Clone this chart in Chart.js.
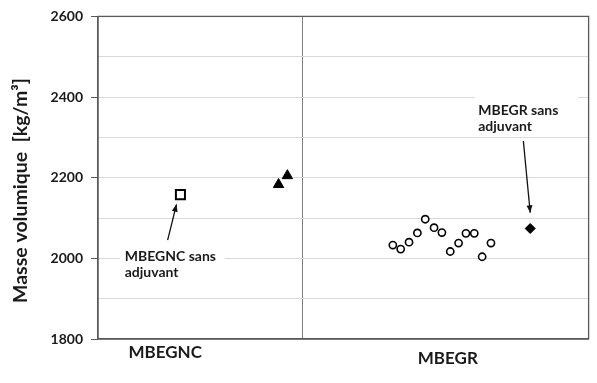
<!DOCTYPE html>
<html>
<head>
<meta charset="utf-8">
<script src="https://cdn.jsdelivr.net/npm/chart.js@4/dist/chart.umd.min.js"></script>
<style>
  html, body { margin: 0; padding: 0; background: #fff; }
  #wrap { width: 597px; height: 383px; }
</style>
</head>
<body>
<div id="wrap"><canvas id="c" width="597" height="383"></canvas></div>
<script>
// ---- data ----
const categories = ['MBEGNC', 'MBEGR'];
const yTitle = 'Masse volumique  [kg/m³]';
const yTickValues = [1800, 2000, 2200, 2400, 2600];

const mbegncRefX = [16.8];
const mbegncRefY = [2158];
const mbegncX = [36.8, 38.6];
const mbegncY = [2183, 2205];
const mbegrX = [60.1, 61.7, 63.4, 65.1, 66.7, 68.5, 70.1, 71.8, 73.5, 75.0, 76.7, 78.3, 80.1];
const mbegrY = [2033, 2023, 2040, 2063, 2097, 2076, 2064, 2017, 2038, 2062, 2062, 2004, 2038];
const mbegrRefX = [88.1];
const mbegrRefY = [2074];

const annotationTexts = [['MBEGNC sans', 'adjuvant'], ['MBEGR sans', 'adjuvant']];

// ---- layout (not data) ----
const groupDivider = 41.6;
const categoryPos = [{x: 13.7, py: 353}, {x: 71.3, py: 358.7}];
const annotationLayout = [
  {textX: 5.45, textY: 1993, box: [120, 250, 225, 282], from: [14.2, 2045], to: [16.0, 2134]},
  {textX: 77.5, textY: 2355, box: [475, 93, 578, 137], from: [86.7, 2291], to: [88.1, 2113]}
];
const FONT = 'Lato, "Open Sans", sans-serif';

function pts(xs, ys) { return xs.map((x, i) => ({x: x, y: ys[i]})); }

const framePlugin = {
  id: 'frame',
  afterDatasetsDraw(chart) {
    const {ctx, scales: {x, y}} = chart;
    ctx.save();
    annotationLayout.forEach((an, i) => {
      ctx.fillStyle = '#fff';
      const b = an.box;
      ctx.fillRect(b[0], b[1], b[2] - b[0], b[3] - b[1]);
      ctx.fillStyle = '#1a1a1a';
      ctx.font = 'bold 14px ' + FONT;
      ctx.textAlign = 'left';
      ctx.textBaseline = 'alphabetic';
      const tx = x.getPixelForValue(an.textX), ty = y.getPixelForValue(an.textY);
      annotationTexts[i].forEach((t, j) => ctx.fillText(t, tx, ty + j * 15.5));
      const x1 = x.getPixelForValue(an.from[0]), y1 = y.getPixelForValue(an.from[1]);
      const x2 = x.getPixelForValue(an.to[0]), y2 = y.getPixelForValue(an.to[1]);
      ctx.strokeStyle = '#111';
      ctx.lineWidth = 1.3;
      ctx.beginPath(); ctx.moveTo(x1, y1); ctx.lineTo(x2, y2); ctx.stroke();
      const ang = Math.atan2(y2 - y1, x2 - x1), L = 8, W = 0.38;
      ctx.fillStyle = '#111';
      ctx.beginPath();
      ctx.moveTo(x2, y2);
      ctx.lineTo(x2 - L * Math.cos(ang - W), y2 - L * Math.sin(ang - W));
      ctx.lineTo(x2 - L * Math.cos(ang + W), y2 - L * Math.sin(ang + W));
      ctx.closePath(); ctx.fill();
    });
    ctx.restore();
  },
  afterDraw(chart) {
    const {ctx, chartArea: a, scales: {x}} = chart;
    ctx.save();
    ctx.strokeStyle = '#595959';
    ctx.lineWidth = 1.3;
    ctx.strokeRect(a.left, a.top, a.right - a.left, a.bottom - a.top);
    ctx.fillStyle = '#1a1a1a';
    ctx.font = 'bold 17px ' + FONT;
    ctx.textAlign = 'center';
    ctx.textBaseline = 'middle';
    categories.forEach((c, i) => ctx.fillText(c, x.getPixelForValue(categoryPos[i].x), categoryPos[i].py));
    // y title, sized to span ~225px like the reference
    ctx.font = 'bold 16px ' + FONT;
    const w = ctx.measureText(yTitle).width;
    const size = Math.min(20, 16 * 225 / w);
    ctx.font = 'bold ' + size.toFixed(1) + 'px ' + FONT;
    ctx.translate(21, 190.5);
    ctx.rotate(-Math.PI / 2);
    ctx.fillText(yTitle, 0, 0);
    ctx.restore();
  }
};

new Chart(document.getElementById('c'), {
  type: 'scatter',
  data: {
    datasets: [
      {label: 'MBEGNC sans adjuvant', data: pts(mbegncRefX, mbegncRefY), pointStyle: 'rect', pointRadius: 6.4, borderWidth: 2, borderColor: '#000', backgroundColor: '#fff'},
      {label: 'MBEGNC', data: pts(mbegncX, mbegncY), pointStyle: 'triangle', pointRadius: 6, borderWidth: 1, borderColor: '#000', backgroundColor: '#000'},
      {label: 'MBEGR', data: pts(mbegrX, mbegrY), pointStyle: 'circle', pointRadius: 3.6, borderWidth: 1.6, borderColor: '#000', backgroundColor: '#fff'},
      {label: 'MBEGR sans adjuvant', data: pts(mbegrRefX, mbegrRefY), pointStyle: 'rectRot', pointRadius: 5, borderWidth: 1, borderColor: '#000', backgroundColor: '#000'}
    ]
  },
  options: {
    responsive: false,
    animation: false,
    events: [],
    layout: {padding: {top: 13, right: 4, bottom: 44, left: 0}},
    plugins: {legend: {display: false}, tooltip: {enabled: false}},
    scales: {
      x: {
        type: 'linear', min: 0, max: 100,
        afterBuildTicks(s) { s.ticks = [{value: groupDivider}]; },
        ticks: {display: false},
        grid: {color: '#7f7f7f', lineWidth: 1, drawTicks: false},
        border: {display: true, color: '#595959', width: 1.3}
      },
      y: {
        min: 1800, max: 2600,
        afterFit(s) { s.width = 98; },
        ticks: {
          stepSize: 100, autoSkip: false, padding: 8, color: '#1a1a1a',
          font: {family: FONT, size: 14, weight: 'bold'},
          callback: v => yTickValues.includes(v) ? String(v) : ''
        },
        grid: {
          color: '#d9d9d9', lineWidth: 1, tickLength: 7,
          tickColor: ctx => yTickValues.includes(ctx.tick.value) ? '#595959' : 'rgba(0,0,0,0)'
        },
        border: {display: true, color: '#595959', width: 1.3}
      }
    }
  },
  plugins: [framePlugin]
});
</script>
</body>
</html>
